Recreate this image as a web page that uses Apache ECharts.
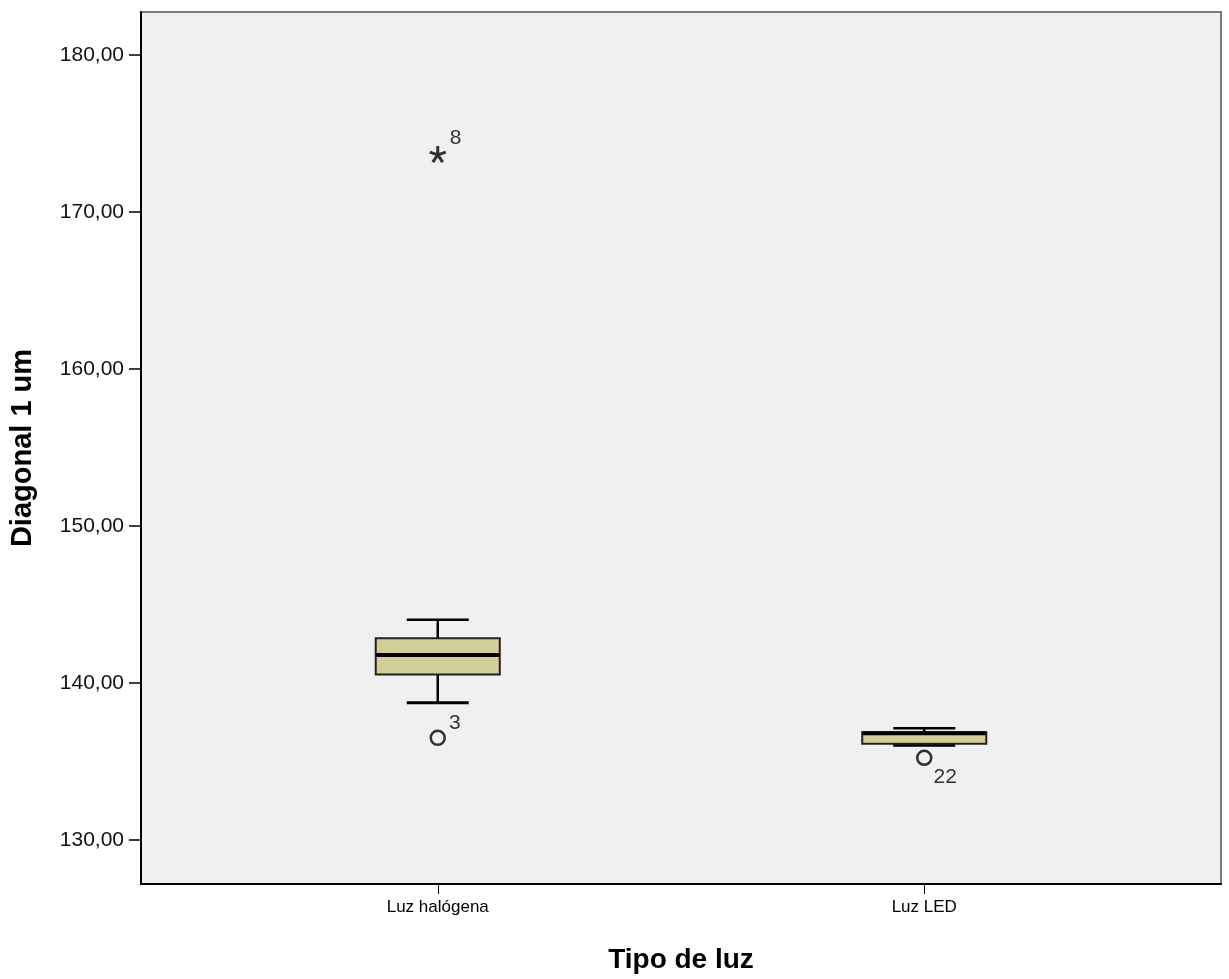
<!DOCTYPE html>
<html>
<head>
<meta charset="utf-8">
<script src="https://cdn.jsdelivr.net/npm/echarts@6/dist/echarts.min.js"></script>
<style>
  html, body { margin: 0; padding: 0; background: #ffffff; }
  #chart { width: 1229px; height: 979px; }
</style>
</head>
<body>
<div id="chart"></div>
<script>
// Groups on the horizontal axis
const categories = ['Luz halógena', 'Luz LED'];
// Box statistics per group: [lower whisker, Q1, median, Q3, upper whisker]
const boxStats = [
  [138.75, 140.55, 141.79, 142.85, 144.04],
  [136.04, 136.13, 136.80, 136.87, 137.12]
];
// Mild outliers (circles): [group index, value, case number]
const outliers = [
  [0, 136.51, '3'],
  [1, 135.24, '22']
];
// Extreme values (asterisks): [group index, value, case number]
const extremes = [
  [0, 173.70, '8']
];
// Value axis tick labels
const yTicks = [130, 140, 150, 160, 170, 180];

const FONT = 'Liberation Sans, Arial, Helvetica, sans-serif';
const groupX = categories.map((c, i) => i + 1);

const chart = echarts.init(document.getElementById('chart'), null, { renderer: 'canvas' });

const asteriskPath = 'path://M10 10L10 0M10 10L19.51 6.91M10 10L15.88 18.09M10 10L4.12 18.09M10 10L0.49 6.91';

function renderBox(params, api) {
  const x = api.value(0);
  const pMin = api.coord([x, api.value(1)]);
  const pQ1 = api.coord([x, api.value(2)]);
  const pMed = api.coord([x, api.value(3)]);
  const pQ3 = api.coord([x, api.value(4)]);
  const pMax = api.coord([x, api.value(5)]);
  const boxW = api.size([0.255, 0])[0];
  const capW = boxW / 2;
  const cx = pMed[0];
  const line = (x1, y1, x2, y2, w) => ({
    type: 'line',
    shape: { x1, y1, x2, y2 },
    style: { stroke: '#000', lineWidth: w }
  });
  return {
    type: 'group',
    children: [
      line(cx, pMax[1], cx, pQ3[1], 2.5),
      line(cx, pQ1[1], cx, pMin[1], 2.5),
      line(cx - capW / 2, pMax[1], cx + capW / 2, pMax[1], 2.5),
      line(cx - capW / 2, pMin[1], cx + capW / 2, pMin[1], 3),
      {
        type: 'rect',
        shape: { x: cx - boxW / 2, y: pQ3[1], width: boxW, height: pQ1[1] - pQ3[1] },
        style: { fill: '#d3ce97', stroke: '#222', lineWidth: 2 }
      },
      line(cx - boxW / 2, pMed[1], cx + boxW / 2, pMed[1], 4)
    ]
  };
}

const option = {
  animation: false,
  backgroundColor: '#ffffff',
  textStyle: { fontFamily: FONT },
  grid: {
    left: 140, top: 12, right: 8, bottom: 92,
    show: true,
    backgroundColor: '#f0f0f0',
    borderColor: '#7a7a7a',
    borderWidth: 2
  },
  xAxis: {
    type: 'value',
    min: 0.39,
    max: 2.61,
    name: 'Tipo de luz',
    nameLocation: 'middle',
    nameGap: 62,
    nameTextStyle: { fontFamily: FONT, fontSize: 28, fontWeight: 'bold', color: '#000' },
    axisLine: { show: true, onZero: false, lineStyle: { color: '#000', width: 2 } },
    axisTick: { show: true, customValues: groupX, length: 10, lineStyle: { color: '#000', width: 1 } },
    axisLabel: {
      customValues: groupX,
      margin: 15,
      fontFamily: FONT,
      fontSize: 17,
      color: '#000',
      formatter: v => categories[Math.round(v) - 1] || ''
    },
    splitLine: { show: false }
  },
  yAxis: {
    type: 'value',
    min: 127.2,
    max: 182.75,
    name: 'Diagonal 1 um',
    nameLocation: 'middle',
    nameGap: 104,
    nameTextStyle: { fontFamily: FONT, fontSize: 29, fontWeight: 'bold', color: '#000' },
    axisLine: { show: true, onZero: false, lineStyle: { color: '#000', width: 2 } },
    axisTick: { show: true, customValues: yTicks, length: 12, lineStyle: { color: '#000', width: 1.5 } },
    axisLabel: {
      customValues: yTicks,
      margin: 17,
      fontFamily: FONT,
      fontSize: 21,
      color: '#111',
      formatter: v => v.toFixed(2).replace('.', ',')
    },
    splitLine: { show: false }
  },
  series: [
    {
      type: 'custom',
      renderItem: renderBox,
      encode: { x: 0, y: [1, 2, 3, 4, 5] },
      data: boxStats.map((s, i) => [groupX[i], ...s]),
      z: 2
    },
    {
      type: 'scatter',
      symbol: 'circle',
      symbolSize: 14,
      itemStyle: { color: 'rgba(0,0,0,0)', borderColor: '#000', borderWidth: 2.5 },
      data: outliers.map(o => ({
        value: [groupX[o[0]], o[1]],
        label: {
          show: true,
          formatter: o[2],
          position: 'right',
          distance: o[2] === '22' ? 1 : 3,
          offset: o[2] === '22' ? [0, 19] : [0, -15],
          fontFamily: FONT,
          fontSize: 21,
          color: '#000'
        }
      })),
      z: 3
    },
    {
      type: 'scatter',
      symbol: asteriskPath,
      symbolSize: 16,
      itemStyle: { color: '#000', borderColor: '#000', borderWidth: 3 },
      data: extremes.map(o => ({
        value: [groupX[o[0]], o[1]],
        label: {
          show: true,
          formatter: o[2],
          position: 'right',
          distance: 2.5,
          offset: [0, -16],
          fontFamily: FONT,
          fontSize: 21,
          color: '#000'
        }
      })),
      z: 3
    }
  ]
};

chart.setOption(option);
</script>
</body>
</html>
